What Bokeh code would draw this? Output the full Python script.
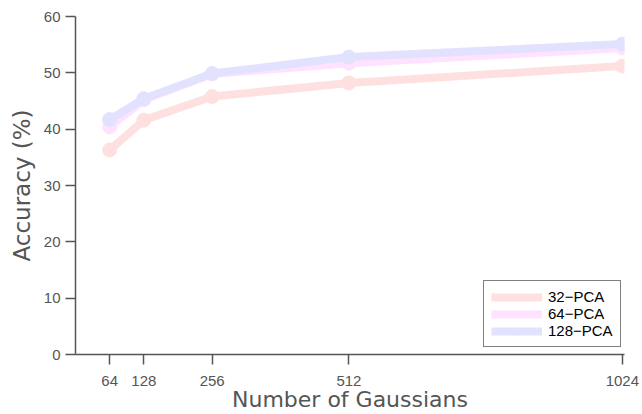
from bokeh.plotting import figure
from bokeh.models import Range1d, FixedTicker, Legend, LegendItem
from bokeh.embed import file_html
from bokeh.resources import INLINE

gaussians = [64, 128, 256, 512, 1024]
pca32 = [36.3, 41.6, 45.8, 48.2, 51.2]
pca64 = [40.4, 45.2, 49.8, 51.7, 54.4]
pca128 = [41.7, 45.4, 49.9, 52.8, 55.1]
series_names = ["32\u2212PCA", "64\u2212PCA", "128\u2212PCA"]
series_colors = ["#FFE0E0", "#FFE2FF", "#E2E2FF"]
y_ticks = [0, 10, 20, 30, 40, 50, 60]
x_title = "Number of Gaussians"
y_title = "Accuracy (%)"

p = figure(width=642, height=414, output_backend="svg", toolbar_location=None,
           x_range=Range1d(0, 1028), y_range=Range1d(0, 60),
           min_border_left=75, min_border_right=18, min_border_top=16, min_border_bottom=60)
p.outline_line_color = None
p.xgrid.visible = False
p.ygrid.visible = False
p.background_fill_color = "white"
p.border_fill_color = "white"

items = []
for name, ys, col in zip(series_names, [pca32, pca64, pca128], series_colors):
    l = p.line(gaussians, ys, line_color=col, line_width=8)
    s = p.scatter(gaussians, ys, size=14, fill_color=col, line_color=col)
    items.append(LegendItem(label=name, renderers=[l, s]))

for ax in (p.xaxis[0], p.yaxis[0]):
    ax.axis_line_color = "#555555"
    ax.axis_line_width = 1.5
    ax.major_tick_line_color = "#555555"
    ax.major_tick_line_width = 1.5
    ax.major_tick_out = 10
    ax.major_tick_in = 0
    ax.minor_tick_line_color = None
    ax.major_label_text_font = "Liberation Sans"
    ax.major_label_text_font_size = "15px"
    ax.major_label_text_color = "#555555"
    ax.axis_label_text_font = "DejaVu Sans"
    ax.axis_label_text_font_size = "23px"
    ax.axis_label_text_font_style = "normal"
    ax.axis_label_text_color = "#555555"

p.xaxis.ticker = FixedTicker(ticks=gaussians)
p.yaxis.ticker = FixedTicker(ticks=y_ticks)
p.xaxis.axis_label = x_title
p.yaxis.axis_label = y_title
p.xaxis.major_label_standoff = 11
p.xaxis.axis_label_standoff = -2
p.xaxis.axis_label_text_font_size = "22px"
p.yaxis.major_label_standoff = 5
p.yaxis.axis_label_standoff = 6

legend = Legend(items=items, location=(408, 7),
                border_line_color="black", border_line_width=1,
                background_fill_color="white", background_fill_alpha=1,
                padding=7, spacing=0, glyph_width=51, glyph_height=16,
                label_height=16, label_standoff=6,
                label_text_font="Liberation Sans", label_text_font_size="15px",
                label_text_color="black")
p.add_layout(legend)

open("out.html", "w").write(file_html(p, INLINE))
